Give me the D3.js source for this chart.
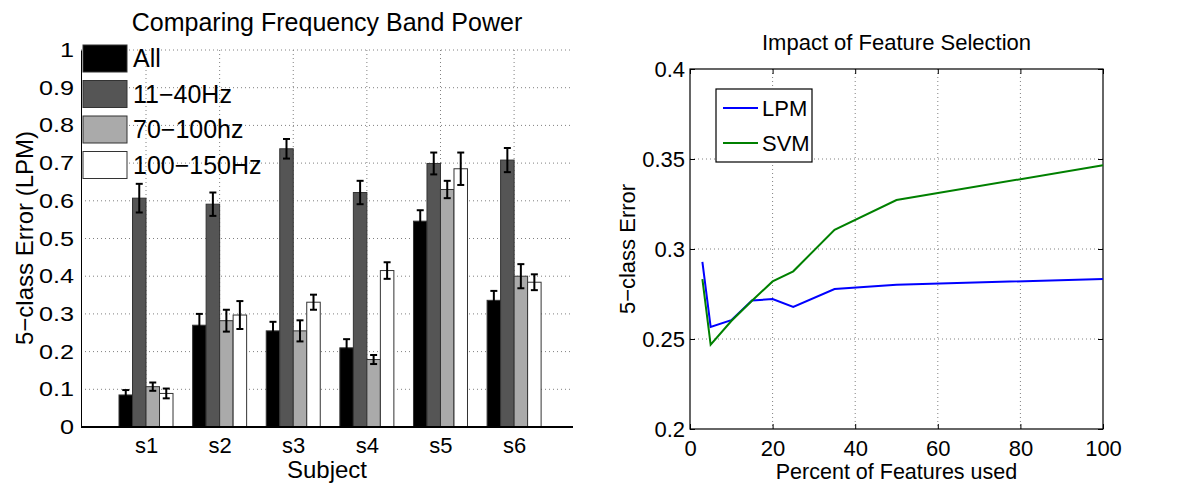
<!DOCTYPE html>
<html>
<head>
<meta charset="utf-8">
<script src="https://cdn.jsdelivr.net/npm/d3@7"></script>
<style>
body { margin: 0; background: #fff; }
svg text { font-family: "Liberation Sans", Arial, Helvetica, sans-serif; fill: #000; }
</style>
</head>
<body>
<svg id="fig" width="1190" height="483"></svg>
<script>
// ---- left chart data ----
let subjects = ["s1", "s2", "s3", "s4", "s5", "s6"]
let bands = ["All", "11\u221240Hz", "70\u2212100hz", "100\u2212150Hz"]
let err_all     = [0.085, 0.270, 0.255, 0.210, 0.546, 0.336]
let err_11_40   = [0.607, 0.591, 0.738, 0.622, 0.699, 0.708]
let err_70_100  = [0.107, 0.282, 0.255, 0.179, 0.630, 0.400]
let err_100_150 = [0.089, 0.297, 0.331, 0.415, 0.685, 0.384]
let sd_all      = [0.013, 0.030, 0.024, 0.023, 0.029, 0.025]
let sd_11_40    = [0.038, 0.031, 0.026, 0.031, 0.029, 0.032]
let sd_70_100   = [0.011, 0.029, 0.028, 0.012, 0.023, 0.032]
let sd_100_150  = [0.013, 0.037, 0.020, 0.022, 0.043, 0.021]
let left_ticks  = [0, 0.1, 0.2, 0.3, 0.4, 0.5, 0.6, 0.7, 0.8, 0.9, 1]

// ---- right chart data ----
let pct_used = [3, 5, 10, 15, 20, 25, 35, 50, 100]
let lpm_err  = [0.2928, 0.2567, 0.2605, 0.2714, 0.2722, 0.2678, 0.2778, 0.2802, 0.2833]
let svm_err  = [0.2833, 0.2468, 0.2600, 0.2712, 0.2820, 0.2876, 0.3107, 0.3272, 0.3465]
let right_x_ticks = [0, 20, 40, 60, 80, 100]
let right_y_ticks = [0.2, 0.25, 0.3, 0.35, 0.4]

let svg = d3.select("#fig")
let grid_col = "#808080"


// ================= left: Comparing Frequency Band Power =================
let L = {x0: 81, x1: 573, top: 50, bot: 427}
let xL = d3.scaleLinear().domain([0.117, 6.8]).range([L.x0, L.x1])
let yL = d3.scaleLinear().domain([0, 1]).range([L.bot, L.top])
let gL = svg.append("g")

// dotted grid
gL.append("g").selectAll("line")
    .data(left_ticks.slice(1))
    .enter().append("line")
        .attr("x1", L.x0).attr("x2", L.x1)
        .attr("y1", d => yL(d)).attr("y2", d => yL(d))
        .attr("stroke", grid_col).attr("stroke-dasharray", "1,3")
gL.append("g").selectAll("line")
    .data(subjects)
    .enter().append("line")
        .attr("x1", (d, i) => xL(i + 1)).attr("x2", (d, i) => xL(i + 1))
        .attr("y1", L.top).attr("y2", L.bot)
        .attr("stroke", grid_col).attr("stroke-dasharray", "1,3")

let series = [err_all, err_11_40, err_70_100, err_100_150]
let sds = [sd_all, sd_11_40, sd_70_100, sd_100_150]
let fills = ["#000000", "#555555", "#aaaaaa", "#ffffff"]
let bw = 0.1834   // bar width in x units

series.forEach((vals, k) => {
    let g = gL.append("g")
    let off = (k - 1.5) * bw
    g.selectAll("rect")
        .data(vals)
        .enter().append("rect")
            .attr("x", (d, i) => xL(i + 1 + off - bw / 2))
            .attr("width", xL(bw) - xL(0))
            .attr("y", d => yL(d))
            .attr("height", d => yL(0) - yL(d))
            .attr("fill", fills[k])
            .attr("stroke", "#333")
            .attr("stroke-width", 1)

    // error bars
    let eb = g.selectAll("g.eb")
        .data(vals)
        .enter().append("g")
    eb.append("line")
        .attr("x1", (d, i) => xL(i + 1 + off)).attr("x2", (d, i) => xL(i + 1 + off))
        .attr("y1", (d, i) => yL(d - sds[k][i])).attr("y2", (d, i) => yL(d + sds[k][i]))
        .attr("stroke", "#000").attr("stroke-width", 2)
    ;[-1, 1].forEach(s => {
        eb.append("line")
            .attr("x1", (d, i) => xL(i + 1 + off) - 3.5).attr("x2", (d, i) => xL(i + 1 + off) + 3.5)
            .attr("y1", (d, i) => yL(d + s * sds[k][i])).attr("y2", (d, i) => yL(d + s * sds[k][i]))
            .attr("stroke", "#000").attr("stroke-width", 2)
    })
})

// baseline
gL.append("line")
    .attr("x1", L.x0).attr("x2", L.x1)
    .attr("y1", yL(0)).attr("y2", yL(0))
    .attr("stroke", "#000").attr("stroke-width", 2)

// y axis (tick labels are drawn wide in the original)
let axL = gL.append("g")
    .attr("transform", "translate(" + L.x0 + ",0)")
    .call(d3.axisLeft(yL).tickValues(left_ticks).tickSize(0).tickSizeOuter(0)
        .tickFormat(d => String(+d.toFixed(1))))
axL.select(".domain").attr("stroke", "#000")
axL.selectAll("text")
    .attr("font-size", 20.5)
    .attr("x", -7 / 1.23)
    .attr("transform", "scale(1.23,1)")

// x axis labels
let axLB = gL.append("g")
    .attr("transform", "translate(0," + L.bot + ")")
    .call(d3.axisBottom(xL).tickValues([1, 2, 3, 4, 5, 6]).tickSize(0).tickPadding(10)
        .tickFormat(d => subjects[d - 1]))
axLB.select(".domain").remove()
axLB.selectAll("text").attr("font-size", 22)

// legend
bands.forEach((b, k) => {
    let y0 = 45 + k * 35.5
    gL.append("rect")
        .attr("x", 83).attr("y", y0).attr("width", 44).attr("height", 27)
        .attr("fill", fills[k]).attr("stroke", "#333")
    gL.append("text")
        .attr("x", 133).attr("y", y0 + 22)
        .attr("font-size", 25)
        .text(b)
})

gL.append("text")
    .attr("x", (L.x0 + L.x1) / 2).attr("y", 31)
    .attr("text-anchor", "middle").attr("font-size", 25)
    .text("Comparing Frequency Band Power")
gL.append("text")
    .attr("x", (L.x0 + L.x1) / 2).attr("y", 478)
    .attr("text-anchor", "middle").attr("font-size", 24)
    .text("Subject")
gL.append("text")
    .attr("transform", "translate(33,238) rotate(-90)")
    .attr("text-anchor", "middle").attr("font-size", 24)
    .text("5\u2212class Error (LPM)")


// ================= right: Impact of Feature Selection =================
let R = {x0: 690, x1: 1103, top: 69, bot: 429}
let xR = d3.scaleLinear().domain([0, 100]).range([R.x0, R.x1])
let yR = d3.scaleLinear().domain([0.2, 0.4]).range([R.bot, R.top])
let gR = svg.append("g")

gR.append("g").selectAll("line")
    .data(right_x_ticks.slice(1, -1))
    .enter().append("line")
        .attr("x1", d => xR(d)).attr("x2", d => xR(d))
        .attr("y1", R.top).attr("y2", R.bot)
        .attr("stroke", grid_col).attr("stroke-dasharray", "1,3")
gR.append("g").selectAll("line")
    .data(right_y_ticks.slice(1, -1))
    .enter().append("line")
        .attr("x1", R.x0).attr("x2", R.x1)
        .attr("y1", d => yR(d)).attr("y2", d => yR(d))
        .attr("stroke", grid_col).attr("stroke-dasharray", "1,3")

let fmt = d => String(+d.toFixed(2))
let axRB = gR.append("g").attr("transform", "translate(0," + R.bot + ")")
    .call(d3.axisBottom(xR).tickValues(right_x_ticks).tickSize(-5).tickSizeOuter(0).tickPadding(11).tickFormat(fmt))
let axRT = gR.append("g").attr("transform", "translate(0," + R.top + ")")
    .call(d3.axisTop(xR).tickValues(right_x_ticks).tickSize(-5).tickSizeOuter(0).tickFormat(""))
let axRL = gR.append("g").attr("transform", "translate(" + R.x0 + ",0)")
    .call(d3.axisLeft(yR).tickValues(right_y_ticks).tickSize(-5).tickSizeOuter(0).tickPadding(5).tickFormat(fmt))
let axRR = gR.append("g").attr("transform", "translate(" + R.x1 + ",0)")
    .call(d3.axisRight(yR).tickValues(right_y_ticks).tickSize(-5).tickSizeOuter(0).tickFormat(""))
;[axRB, axRT, axRL, axRR].forEach(a => {
    a.select(".domain").remove()
    a.selectAll("line").attr("stroke", "#000")
    a.selectAll("text").attr("font-size", 22)
})

gR.append("rect")
    .attr("x", R.x0).attr("y", R.top)
    .attr("width", R.x1 - R.x0).attr("height", R.bot - R.top)
    .attr("fill", "none").attr("stroke", "#000").attr("stroke-width", 1.2)

let line = d3.line()
    .x((d, i) => xR(pct_used[i]))
    .y(d => yR(d))
gR.append("path").datum(lpm_err)
    .attr("d", line).attr("fill", "none")
    .attr("stroke", "#0000ff").attr("stroke-width", 2)
gR.append("path").datum(svm_err)
    .attr("d", line).attr("fill", "none")
    .attr("stroke", "#008000").attr("stroke-width", 2)

// legend
let lg = gR.append("g")
lg.append("rect")
    .attr("x", 716).attr("y", 89).attr("width", 96).attr("height", 73)
    .attr("fill", "#fff").attr("stroke", "#000").attr("stroke-width", 1.2)
;[["LPM", "#0000ff", 108], ["SVM", "#008000", 143]].forEach(([name, col, y]) => {
    lg.append("line")
        .attr("x1", 723).attr("x2", 758).attr("y1", y).attr("y2", y)
        .attr("stroke", col).attr("stroke-width", 2)
    lg.append("text")
        .attr("x", 762).attr("y", y + 8)
        .attr("font-size", 22)
        .text(name)
})

gR.append("text")
    .attr("x", (R.x0 + R.x1) / 2).attr("y", 50)
    .attr("text-anchor", "middle").attr("font-size", 22)
    .text("Impact of Feature Selection")
gR.append("text")
    .attr("x", (R.x0 + R.x1) / 2).attr("y", 479)
    .attr("text-anchor", "middle").attr("font-size", 21.5)
    .text("Percent of Features used")
gR.append("text")
    .attr("transform", "translate(635," + (R.top + R.bot) / 2 + ") rotate(-90)")
    .attr("text-anchor", "middle").attr("font-size", 22)
    .text("5\u2212class Error")
</script>
</body>
</html>
